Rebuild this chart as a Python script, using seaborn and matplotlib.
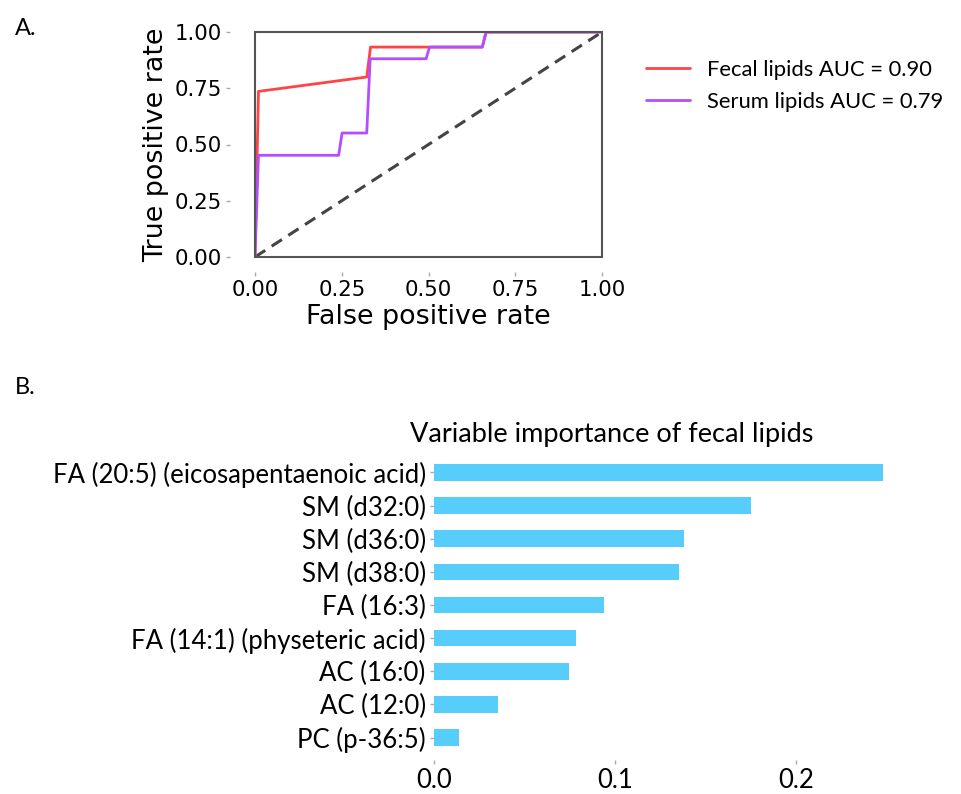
import numpy as np
import pandas as pd
import matplotlib
matplotlib.use("Agg")
import matplotlib.pyplot as plt
import seaborn as sns
from matplotlib.patches import Rectangle
from matplotlib.lines import Line2D

# ---- data ----
fecal_fpr = [0.0, 0.010, 0.322, 0.333, 0.500, 0.655, 0.666, 1.0]
fecal_tpr = [0.0, 0.736, 0.800, 0.933, 0.933, 0.933, 1.000, 1.0]
serum_fpr = [0.0, 0.010, 0.241, 0.251, 0.322, 0.332, 0.493, 0.503, 0.655, 0.666, 1.0]
serum_tpr = [0.0, 0.452, 0.452, 0.551, 0.551, 0.881, 0.881, 0.933, 0.933, 1.000, 1.0]
roc_names = ["Fecal lipids AUC = 0.90", "Serum lipids AUC = 0.79"]

lipids = ["FA (20:5) (eicosapentaenoic acid)", "SM (d32:0)", "SM (d36:0)", "SM (d38:0)",
          "FA (16:3)", "FA (14:1) (physeteric acid)", "AC (16:0)", "AC (12:0)", "PC (p-36:5)"]
importance = [0.248, 0.175, 0.138, 0.135, 0.094, 0.0785, 0.0746, 0.0354, 0.0136]
x_ticks_b = [0.0, 0.1, 0.2]
roc_ticks = [0.0, 0.25, 0.5, 0.75, 1.0]

sns.set_theme(style="white")
plt.rcParams["font.family"] = ["DejaVu Sans"]
for k in ["text.color", "axes.labelcolor", "xtick.labelcolor", "ytick.labelcolor"]:
    plt.rcParams[k] = "black"
CAL = ["Lato", "DejaVu Sans"]

W, H = 961, 794
fig = plt.figure(figsize=(W / 100, H / 100), dpi=100)

def fx(px):
    return px / W

def fy(py):
    return 1 - py / H

# ---- Panel A ----
axA = fig.add_axes([fx(255), fy(257), fx(602) - fx(255), fy(32) - fy(257)])
fecal_df = pd.DataFrame({"fpr": fecal_fpr, "tpr": fecal_tpr})
serum_df = pd.DataFrame({"fpr": serum_fpr, "tpr": serum_tpr})
red, purple = "#ff4444", "#b44dff"
axA.plot([0, 1], [0, 1], ls=(0, (4, 2.5)), color="#444444", lw=2.2, zorder=1)
sns.lineplot(data=fecal_df, x="fpr", y="tpr", sort=False, estimator=None,
             color=red, lw=2.0, ax=axA, zorder=2)
sns.lineplot(data=serum_df, x="fpr", y="tpr", sort=False, estimator=None,
             color=purple, lw=2.0, ax=axA, zorder=3)
axA.set_xlim(0, 1)
axA.set_ylim(0, 1)
axA.set_xticks(roc_ticks)
axA.set_yticks(roc_ticks)
axA.set_xticklabels([f"{t:.2f}" for t in roc_ticks], family="DejaVu Sans")
axA.set_yticklabels([f"{t:.2f}" for t in roc_ticks], family="DejaVu Sans")
axA.set_xlabel("False positive rate", fontsize=19.4, labelpad=3)
axA.set_ylabel("True positive rate", fontsize=19.4, labelpad=4)
axA.tick_params(axis="both", labelsize=15.3, length=3, width=1, color="#aaaaaa",
                direction="out", pad=2.5, bottom=True, left=True)
axA.spines["left"].set_position(("outward", 18))
axA.spines["bottom"].set_position(("outward", 11))
for s in axA.spines.values():
    s.set_visible(False)
axA.add_patch(Rectangle((0, 0), 1, 1, transform=axA.transAxes, fill=False,
                        edgecolor="#555555", lw=1.5, zorder=5, clip_on=False))

handles = [Line2D([], [], color=red, lw=2), Line2D([], [], color=purple, lw=2)]
fig.legend(handles, roc_names, loc="center left", bbox_to_anchor=(fx(626), fy(86)),
           frameon=False, prop={"family": CAL, "size": 15.8}, handlelength=2.0,
           handletextpad=0.8, labelspacing=0.55)

fig.text(fx(15), fy(35), "A.", fontsize=17, family=CAL, va="baseline", ha="left")
fig.text(fx(15), fy(394), "B.", fontsize=17, family=CAL, va="baseline", ha="left")

# ---- Panel B ----
axB = fig.add_axes([fx(434), fy(760), fx(905) - fx(434), fy(450) - fy(760)])
bar_df = pd.DataFrame({"lipid": lipids, "importance": importance})
sns.barplot(data=bar_df, x="importance", y="lipid", orient="h", color="#57cdfc",
            saturation=1, width=0.5, linewidth=0, ax=axB)
axB.set_xlim(0, 0.26)
axB.set_ylim(len(lipids) - 1 + 0.675, -0.675)
axB.set_xticks(x_ticks_b)
axB.set_xticklabels([f"{t:.1f}" for t in x_ticks_b], family=CAL, fontsize=18.5)
axB.set_yticks(range(len(lipids)))
axB.set_yticklabels(lipids, family=CAL, fontsize=18.5)
axB.set_xlabel("")
axB.set_ylabel("")
axB.tick_params(axis="y", length=3, width=1, color="#aaaaaa", direction="out",
                pad=3, left=True)
axB.tick_params(axis="x", length=3, width=1, color="#aaaaaa", direction="out",
                pad=3, bottom=True)
for s in axB.spines.values():
    s.set_visible(False)
axB.set_title("Variable importance of fecal lipids", family=CAL, fontsize=19.5,
              x=(612 - 434) / (905 - 434), pad=6)

fig.savefig("out.png", dpi=100)
